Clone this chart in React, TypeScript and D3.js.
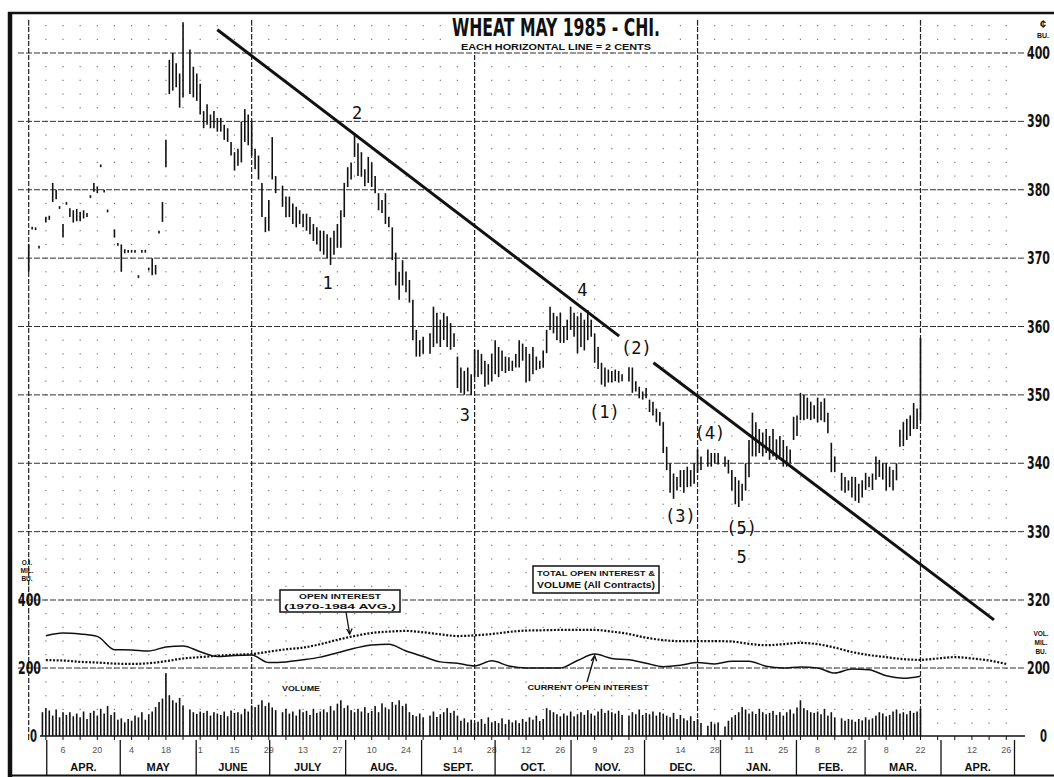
import React from "react";
import * as d3 from "d3";

// ---- data ----

// daily [high, low] in cents/bu, one row per trading week (Mon..Fri), first Friday 1984-03-23
const priceWeeks: ([number, number] | null)[][] = [
    [null, null, null, null, [372, 368]],
    [[374.6, 374.2], [374.5, 374.1], [371.8, 371.4], null, [376, 375.2]],
    [[376.2, 375.6], [381, 378.2], [380, 378.6], [377.6, 377.2], [375, 373]],
    [[378.2, 377.8], [377.3, 376], [377, 375.2], [377.2, 375.4], [376.8, 375.4]],
    [[377, 375.8], [376.6, 376], [379.2, 378.8], [381, 379.7], [380.5, 379.5]],
    [[383.7, 383.3], [380, 379.6], [377.1, 376.7], null, [374.2, 373]],
    [[372.2, 371.8], [372, 368], [371.3, 370.7], [371.2, 370.8], [371.2, 370.8]],
    [[371.2, 370.8], [367.5, 367.1], [371.2, 370.8], [371.2, 370.8], [368.6, 368.2]],
    [[370, 367.5], [369, 367.6], [374, 373.6], [378.2, 375.3], [387.3, 383.3]],
    [[399, 394], [400, 394.5], [398.5, 395], [397, 392], [404.5, 393.5]],
    [null, [400.5, 394], [398, 393.5], [397, 393], [395.5, 391]],
    [[391.5, 389], [392.5, 389.5], [391, 389], [391.5, 389], [390.5, 388.5]],
    [[390.5, 388.5], [389.5, 387.3], [389, 387], [387, 385], [385.5, 382.8]],
    [[386, 383.5], [390, 384], [391.8, 387], [391, 386.5], [390, 385]],
    [[386, 383], [385, 381.5], [381, 376], [376, 373.8], [378.5, 374]],
    [[387.7, 381.5], [382, 379.5], null, [380.6, 377.5], [379, 376]],
    [[379, 376], [378, 375], [377.5, 374.5], [377, 375], [376.5, 374.5]],
    [[376.5, 374], [376, 373.5], [375, 372.5], [374.5, 372], [374, 371]],
    [[374, 370.5], [373.5, 370], [373, 369], [374, 370.5], [375, 371.5]],
    [[377, 371.5], [381, 376], [383.3, 380.4], [384, 381.5], [388.3, 384.8]],
    [[386.8, 382], [385.5, 381.9], [383, 380.5], [384.8, 381], [384, 380.4]],
    [[382, 379.5], [379.5, 377], [378.5, 376.6], [379.5, 375], [376, 374.5]],
    [[374.5, 369.7], [370.8, 366], [368, 363.9], [369.7, 366], [368, 365]],
    [[366.8, 363.5], [363.9, 358], [359.5, 355.6], [358, 355.6], [358.5, 356]],
    [null, [359, 356], [362.9, 357], [362, 357.5], [361, 357]],
    [[362, 358], [361.5, 357], [360.5, 356.6], [359, 357], [355.6, 351]],
    [[354, 350.3], [353.5, 350], [354, 350.5], [353, 350], [356.6, 352.6]],
    [[356.6, 352.6], [356, 353], [355, 351.2], [354.5, 351.5], [356, 352]],
    [[358, 353], [357, 352.6], [356.5, 353.5], [355.6, 353.2], [355.5, 353.5]],
    [[355, 353.5], [356, 354], [358, 354], [357.5, 355], [357, 351.8]],
    [[356, 352], [357, 353], [355.6, 353.6], [355, 353.8], [356.5, 354]],
    [[359.5, 356.1], [362.9, 359.5], [362, 359], [361.5, 358], [362, 357.6]],
    [[360, 357.6], [361, 358], [362.9, 359.5], [362, 358.5], [361.5, 356.1]],
    [[362, 357], [361, 356.5], [362.4, 358], [361, 358.5], [359, 354.7]],
    [[357, 353.8], [354.7, 351.5], [354, 351.2], [353.7, 351.8], [353.5, 351.8]],
    [[353.7, 352], [353.5, 351.8], [353, 352], null, [354, 352]],
    [[354, 350.3], [352, 350.5], [351.2, 349.5], [350.5, 349.3], [351, 349.5]],
    [[349.3, 347.5], [349, 347], [348, 346], [347.5, 345.5], [346, 341.5]],
    [[342.4, 339], [340, 335.7], [338.5, 334.8], [338, 336], [339, 336.5]],
    [[339, 335.7], [339.5, 336.5], [339, 336.6], [340, 337], [342, 338.6]],
    [[341, 339], null, [342, 339.5], [341.5, 339.5], [341.5, 340]],
    [[341.5, 339.8], null, [341, 339.5], [340.5, 338.5], [339, 336]],
    [[338, 334], [337.5, 333.6], [337, 334.5], [340, 336], [343.4, 338]],
    [[347.4, 341], [346, 341], [345, 341.5], [344.5, 341], [345, 341.5]],
    [[344, 340.5], [345, 341], [343.5, 340.5], [344, 341], [343.4, 339.5]],
    [[342.5, 339.5], [342, 340], [346.8, 343.4], [347, 344], [350.3, 346.3]],
    [[350, 346.3], [349.6, 346.5], [349, 346.3], [348.5, 346.5], [349.6, 346]],
    [[349, 346.3], [349.5, 346], [347.4, 344.4], [343, 338.7], [341, 338.7]],
    [null, [338.6, 336], [338, 335.7], [337.5, 336], [338, 335]],
    [[338, 334.5], [337, 334.2], [337.5, 335], [338.6, 336.1], [338, 336.5]],
    [[338.5, 336.1], [341, 337.6], [340.5, 338], [340, 337.6], [340, 336]],
    [[339.5, 336.5], [339, 336], [340, 337.5], [344.9, 342.4], [346, 342.5]],
    [[346.5, 343.4], [347, 344], [348.8, 345], [348, 345], [358.3, 346.3]],
];

// daily volume, mil. bu., same week layout
const volumeWeeks: (number | null)[][] = [
    [null, null, null, null, null],
    [null, null, null, 70, 82],
    [75, 60, 78, 55, 70],
    [62, 70, 58, 66, 55],
    [72, 50, 68, 74, 60],
    [80, 66, 88, 62, 70],
    [48, 52, 40, 50, 45],
    [60, 55, 70, 48, 64],
    [72, 85, 100, 110, 185],
    [120, 105, 98, 112, 90],
    [null, 78, 70, 65, 72],
    [68, 74, 60, 70, 66],
    [62, 72, 58, 75, 68],
    [70, 64, 80, 72, 90],
    [85, 92, 105, 88, 98],
    [84, 76, null, 70, 80],
    [66, 72, 60, 78, 70],
    [74, 62, 80, 68, 72],
    [78, 70, 88, 75, 95],
    [105, 82, 90, 76, 70],
    [80, 72, 85, 68, 74],
    [88, 70, 96, 84, 78],
    [100, 92, 105, 88, 95],
    [70, 62, 58, 66, 55],
    [null, 60, 72, 56, 64],
    [70, 82, 68, 74, 60],
    [45, 52, 40, 48, 38],
    [42, 50, 36, 55, 40],
    [44, 38, 52, 35, 48],
    [40, 46, 38, 50, 42],
    [55, 48, 60, 44, 50],
    [82, 76, 70, 64, 58],
    [66, 60, 72, 58, 64],
    [70, 62, 76, 66, 60],
    [72, 80, 68, 75, 70],
    [66, 74, 62, null, 60],
    [70, 64, 78, 62, 68],
    [64, 72, 60, 70, 66],
    [60, 55, 68, 50, 62],
    [52, 46, 58, 44, 50],
    [38, null, 30, 42, 35],
    [40, null, 28, 45, 55],
    [62, 70, 85, 78, 66],
    [72, 65, 80, 70, 64],
    [68, 74, 62, 70, 60],
    [70, 78, 66, 84, 105],
    [82, 76, 70, 68, 72],
    [64, 80, 60, 70, 55],
    [null, 52, 45, 50, 48],
    [42, 50, 46, 55, 48],
    [52, 60, 70, 66, 58],
    [62, 72, 78, 66, 70],
    [64, 74, 68, 72, 80],
];

// weekly (Fridays from 1984-03-30), mil. bu.
const avgOpenInterest: number[] = [
    223, 222, 218, 216, 213, 212, 214, 220, 228, 232, 236, 239, 241, 248, 255, 260,
    270, 283, 294, 303, 307, 309, 305, 299, 294, 296, 300, 306, 310, 311, 312, 312,
    312, 307, 300, 289, 282, 279, 279, 279, 278, 271, 267, 270, 274, 270, 260, 247,
    238, 232, 226, 224, 228, 232, 228, 222, 212,
];
const currentOpenInterest: number[] = [
    295, 303, 300, 293, 254, 253, 250, 262, 265, 248, 234, 237, 238, 216, 218, 224,
    232, 245, 258, 268, 270, 250, 234, 218, 214, 206, 221, 206, 200, 200, 200, 222,
    241, 228, 224, 214, 204, 208, 216, 212, 220, 220, 205, 200, 203, 200, 185, 197,
    195, 177, 170, 176,
];

const tickDates = [
    "1984-04-06", "1984-04-20", "1984-05-04", "1984-05-18", "1984-06-01", "1984-06-15",
    "1984-06-29", "1984-07-13", "1984-07-27", "1984-08-10", "1984-08-24", "1984-09-14",
    "1984-09-28", "1984-10-12", "1984-10-26", "1984-11-09", "1984-11-23", "1984-12-14",
    "1984-12-28", "1985-01-11", "1985-01-25", "1985-02-08", "1985-02-22", "1985-03-08",
    "1985-03-22", "1985-04-12", "1985-04-26",
];
const monthStarts = [
    "1984-04-01", "1984-05-01", "1984-06-01", "1984-07-01", "1984-08-01", "1984-09-01",
    "1984-10-01", "1984-11-01", "1984-12-01", "1985-01-01", "1985-02-01", "1985-03-01",
    "1985-04-01", "1985-05-01",
];
const monthNames = ["APR.", "MAY", "JUNE", "JULY", "AUG.", "SEPT.", "OCT.", "NOV.", "DEC.", "JAN.", "FEB.", "MAR.", "APR."];
const quarterLines = ["1984-03-23", "1984-06-22", "1984-09-21", "1984-12-21", "1985-03-22"];

const priceTicks = [400, 390, 380, 370, 360, 350, 340, 330, 320];
const oiTicks = [400, 200, 0];

const trendLines: [string, number, string, number][] = [
    ["1984-06-08", 403.4, "1984-11-19", 358.6],
    ["1984-12-03", 354.7, "1985-04-21", 317.1],
];

const waveLabels: [string, string, number][] = [
    ["1", "1984-07-23", 366.4],
    ["2", "1984-08-04", 391.2],
    ["3", "1984-09-17", 347.1],
    ["4", "1984-11-04", 365.4],
    ["(2)", "1984-11-26", 356.9],
    ["(1)", "1984-11-13", 347.5],
    ["(3)", "1984-12-14", 332.3],
    ["(4)", "1984-12-26", 344.4],
    ["(5)", "1985-01-08", 330.6],
    ["5", "1985-01-08", 326.3],
];

// ---- layout ----
const W = 1054, H = 777;
const DAY = 864e5;
const parse = d3.timeParse("%Y-%m-%d");
const firstFriday = parse("1984-03-23")!;

const x = d3.scaleTime()
    .domain([parse("1984-04-06")!, parse("1985-03-22")!])
    .range([63, 920.5]);
const yP = d3.scaleLinear().domain([320, 400]).range([600, 53]);
const yV = d3.scaleLinear().domain([0, 400]).range([736, 600]);

const friday = (k: number) => new Date(firstFriday.getTime() + k * 7 * DAY);
// bars are evenly spaced across the week, no weekend gap
const barDate = (week: number, day: number) =>
    new Date(firstFriday.getTime() + (week * 7 - (4 - day) * 1.4) * DAY);

const INK = "#111";
const NARROW = "'Liberation Sans Narrow', 'DejaVu Sans Condensed', 'Liberation Sans', sans-serif";

function Lattice() {
    const dots: JSX.Element[] = [];
    for (let k = 0; k <= 57; k++) {
        const cx = x(friday(k));
        for (let p = 302; p <= 404; p += 2) {
            dots.push(<rect key={`${k}-${p}`} x={cx - 0.6} y={yP(p) - 0.6} width={1.2} height={1.2} fill="#777" />);
        }
    }
    return <g>{dots}</g>;
}

// tall, narrow bold axis number (stretched vertically so it stays inside the page)
function AxisNum({ x0, y0, v, w }: { x0: number, y0: number, v: number, w: number }) {
    return (
        <text transform={`translate(${x0},${y0 + 6}) scale(1,1.2)`} fontFamily={NARROW} fontWeight="bold"
            fontSize={14} textLength={w} lengthAdjust="spacingAndGlyphs" fill={INK}>{v}</text>
    );
}

export default function App() {
    const bars: JSX.Element[] = [];
    priceWeeks.forEach((week, wi) => week.forEach((d, di) => {
        if (!d) return;
        const bx = x(barDate(wi, di));
        const top = yP(d[0]);
        const bot = Math.max(yP(d[1]), top + 2);
        bars.push(<line key={`p${wi}-${di}`} x1={bx} x2={bx} y1={top} y2={bot} stroke={INK} strokeWidth={1.6} />);
    }));

    const vols: JSX.Element[] = [];
    volumeWeeks.forEach((week, wi) => week.forEach((v, di) => {
        if (v == null) return;
        const bx = x(barDate(wi, di));
        vols.push(<rect key={`v${wi}-${di}`} x={bx - 0.8} y={yV(v)} width={1.6} height={yV(0) - yV(v)} fill={INK} />);
    }));

    const oiLine = d3.line<number>()
        .x((_, i) => x(friday(i + 1)))
        .y(v => yV(v))
        .curve(d3.curveMonotoneX);

    const ms = monthStarts.map(s => x(parse(s)!) - 4);
    const arrowA = { x: x(parse("1984-08-01")!), y: yV(300) };
    const arrowB = { x: x(parse("1984-11-09")!), y: yV(236) };

    return (
        <svg width={W} height={H} style={{ position: "absolute", left: 0, top: 0, background: "#fff" }}
            fontFamily="'Liberation Sans', Arial, sans-serif">
            <rect x={0} y={0} width={W} height={H} fill="#fff" />

            <Lattice />

            {/* major horizontal lines */}
            {priceTicks.map(p => (
                <line key={`h${p}`} x1={18} x2={1025} y1={yP(p)} y2={yP(p)} stroke="#333" strokeWidth={1} strokeDasharray="6,2" />
            ))}
            <line x1={18} x2={1025} y1={yV(200)} y2={yV(200)} stroke="#333" strokeWidth={1} strokeDasharray="6,2" />
            <line x1={40} x2={1025} y1={yV(0)} y2={yV(0)} stroke={INK} strokeWidth={1.4} />

            {/* quarter verticals */}
            {quarterLines.map(s => (
                <line key={s} x1={x(parse(s)!)} x2={x(parse(s)!)} y1={20} y2={736} stroke="#222" strokeWidth={1.2} strokeDasharray="5,2" />
            ))}

            {/* title */}
            <rect x={450} y={16} width={215} height={36} fill="#fff" />
            <text x={556} y={36} textAnchor="middle" fontFamily={NARROW} fontWeight="bold" fontSize={24}
                textLength={208} lengthAdjust="spacingAndGlyphs" fill={INK}>WHEAT  MAY 1985 - CHI.</text>
            <text x={556} y={50} textAnchor="middle" fontWeight="bold" fontSize={9}
                textLength={190} lengthAdjust="spacingAndGlyphs" fill={INK}>EACH HORIZONTAL LINE = 2 CENTS</text>

            {/* price axis labels (right) */}
            {priceTicks.map(p => <AxisNum key={`t${p}`} x0={1027} y0={yP(p)} v={p} w={23} />)}
            <text x={1043} y={28} textAnchor="middle" fontSize={11} fontWeight="bold" fill={INK}>¢</text>
            <text x={1043} y={38} textAnchor="middle" fontSize={7} fontWeight="bold" fill={INK}>BU.</text>

            {/* OI / volume axis labels */}
            {oiTicks.filter(v => v > 0).map(v => <AxisNum key={`l${v}`} x0={18} y0={yV(v)} v={v} w={23} />)}
            <AxisNum x0={30} y0={yV(0)} v={0} w={7} />
            {oiTicks.filter(v => v > 0 && v < 400).map(v => <AxisNum key={`r${v}`} x0={1027} y0={yV(v)} v={v} w={23} />)}
            <AxisNum x0={1040} y0={yV(0)} v={0} w={7} />
            {["O.I.", "MIL.", "BU."].map((s, i) => (
                <text key={s} x={27} y={565 + i * 8} textAnchor="middle" fontSize={6.5} fontWeight="bold" fill={INK}>{s}</text>
            ))}
            {["VOL.", "MIL.", "BU."].map((s, i) => (
                <text key={`v${s}`} x={1041} y={636 + i * 9} textAnchor="middle" fontSize={6.5} fontWeight="bold" fill={INK}>{s}</text>
            ))}

            {/* price bars */}
            <g>{bars}</g>

            {/* trend lines */}
            {trendLines.map(([d0, p0, d1, p1], i) => (
                <line key={`tl${i}`} x1={x(parse(d0)!)} y1={yP(p0)} x2={x(parse(d1)!)} y2={yP(p1)} stroke={INK} strokeWidth={3} />
            ))}

            {/* wave counts */}
            {waveLabels.map(([t, d, p], i) => (
                <text key={`w${i}`} x={x(parse(d)!)} y={yP(p)} textAnchor="middle" dominantBaseline="central"
                    fontFamily="'DejaVu Sans Mono', monospace" fontSize={17} fill={INK}>{t}</text>
            ))}

            {/* open interest */}
            <path d={oiLine(avgOpenInterest) ?? ""} fill="none" stroke={INK} strokeWidth={2.2} strokeDasharray="2,1.6" />
            <path d={oiLine(currentOpenInterest) ?? ""} fill="none" stroke={INK} strokeWidth={1.5} />

            {/* volume */}
            <g>{vols}</g>

            {/* legend boxes */}
            <rect x={280} y={590} width={120} height={22} fill="#fff" stroke={INK} strokeWidth={1.5} />
            <text x={340} y={599} textAnchor="middle" fontSize={7.5} fontWeight="bold" textLength={82} lengthAdjust="spacingAndGlyphs" fill={INK}>OPEN INTEREST</text>
            <text x={340} y={609} textAnchor="middle" fontSize={7.5} fontWeight="bold" textLength={112} lengthAdjust="spacingAndGlyphs" fill={INK}>(1970-1984 AVG.)</text>
            <line x1={346} y1={612} x2={arrowA.x} y2={arrowA.y} stroke={INK} strokeWidth={1.3} />
            <path d={`M${arrowA.x - 3},${arrowA.y - 5} L${arrowA.x},${arrowA.y} L${arrowA.x + 2.5},${arrowA.y - 5.5}`} fill="none" stroke={INK} strokeWidth={1.3} />

            <rect x={533} y={566} width={126} height={27} fill="#fff" stroke={INK} strokeWidth={1.5} />
            <text x={596} y={576} textAnchor="middle" fontSize={8} fontWeight="bold" textLength={118} lengthAdjust="spacingAndGlyphs" fill={INK}>TOTAL OPEN INTEREST &amp;</text>
            <text x={596} y={588} textAnchor="middle" fontSize={8.5} fontWeight="bold" textLength={118} lengthAdjust="spacingAndGlyphs" fill={INK}>VOLUME (All Contracts)</text>

            <text x={588} y={690} textAnchor="middle" fontSize={8} fontWeight="bold" textLength={121} lengthAdjust="spacingAndGlyphs" fill={INK}>CURRENT OPEN INTEREST</text>
            <line x1={587} y1={682} x2={arrowB.x} y2={arrowB.y} stroke={INK} strokeWidth={1.3} />
            <path d={`M${arrowB.x - 3.5},${arrowB.y + 5} L${arrowB.x},${arrowB.y} L${arrowB.x + 2},${arrowB.y + 5.5}`} fill="none" stroke={INK} strokeWidth={1.3} />
            <text x={301} y={691} textAnchor="middle" fontSize={7.5} fontWeight="bold" textLength={38} lengthAdjust="spacingAndGlyphs" fill={INK}>VOLUME</text>

            {/* date axis */}
            {d3.range(0, 58).map(k => (
                <line key={`wk${k}`} x1={x(friday(k))} x2={x(friday(k))} y1={736} y2={740} stroke={INK} strokeWidth={1} />
            ))}
            {tickDates.map(s => (
                <text key={s} x={x(parse(s)!)} y={753} textAnchor="middle" fontSize={9} fill="#555">
                    {parse(s)!.getDate()}
                </text>
            ))}
            {ms.map((mx, i) => (
                <line key={`ms${i}`} x1={mx} x2={mx} y1={740} y2={775} stroke={INK} strokeWidth={1.3} />
            ))}
            {monthNames.map((m, i) => (
                <text key={`mn${i}`} x={(ms[i] + ms[i + 1]) / 2} y={771} textAnchor="middle" fontSize={11}
                    fontWeight="bold" fill={INK}>{m}</text>
            ))}

            {/* frame */}
            <line x1={8} x2={W} y1={13} y2={13} stroke={INK} strokeWidth={2.5} />
            <line x1={10} x2={10} y1={12} y2={H} stroke={INK} strokeWidth={4.5} />
            <line x1={8} x2={W} y1={775.5} y2={775.5} stroke={INK} strokeWidth={2} />
        </svg>
    );
}
